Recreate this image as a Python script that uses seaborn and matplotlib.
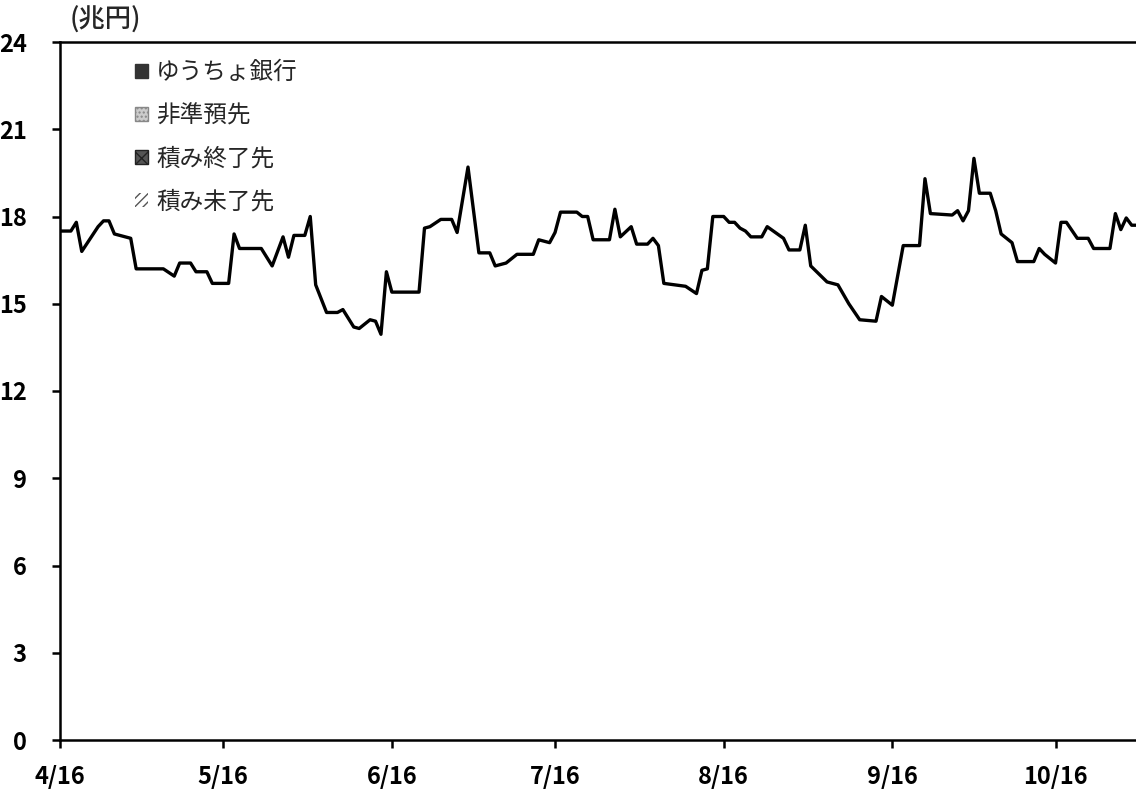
import matplotlib
matplotlib.use("Agg")
import matplotlib.pyplot as plt
from matplotlib.patches import Patch
import seaborn as sns
import pandas as pd

YEAR = "2008"
dates = ["4/16", "4/18", "4/19", "4/20", "4/23", "4/24", "4/25", "4/26", "4/29", "4/30",
         "5/5", "5/7", "5/8", "5/10", "5/11", "5/13", "5/14", "5/17", "5/18", "5/19",
         "5/23", "5/25", "5/27", "5/28", "5/29", "5/31", "6/1", "6/2", "6/4", "6/6",
         "6/7", "6/9", "6/10", "6/12", "6/13", "6/14", "6/15", "6/16", "6/21", "6/22",
         "6/23", "6/25", "6/27", "6/28", "6/30", "7/2", "7/4", "7/5", "7/7", "7/9",
         "7/12", "7/13", "7/15", "7/16", "7/17", "7/20", "7/21", "7/22", "7/23", "7/26",
         "7/27", "7/28", "7/30", "7/31", "8/2", "8/3", "8/4", "8/5", "8/9", "8/11",
         "8/12", "8/13", "8/14", "8/16", "8/17", "8/18", "8/19", "8/20", "8/21", "8/23",
         "8/24", "8/27", "8/28", "8/30", "8/31", "9/1", "9/4", "9/6", "9/8", "9/10",
         "9/13", "9/14", "9/15", "9/16", "9/18", "9/21", "9/22", "9/23", "9/27", "9/28",
         "9/29", "9/30", "10/1", "10/2", "10/4", "10/5", "10/6", "10/8", "10/9", "10/12",
         "10/13", "10/14", "10/16", "10/17", "10/18", "10/20", "10/22", "10/23", "10/26", "10/27",
         "10/28", "10/29", "10/30", "10/31"]
total = [17.5, 17.5, 17.8, 16.8, 17.65, 17.85, 17.85, 17.4, 17.25, 16.2,
         16.2, 15.95, 16.4, 16.4, 16.1, 16.1, 15.7, 15.7, 17.4, 16.9,
         16.9, 16.3, 17.3, 16.6, 17.35, 17.35, 18.0, 15.65, 14.7, 14.7,
         14.8, 14.2, 14.15, 14.45, 14.4, 13.95, 16.1, 15.4, 15.4, 17.6,
         17.65, 17.9, 17.9, 17.45, 19.7, 16.75, 16.75, 16.3, 16.4, 16.7,
         16.7, 17.2, 17.1, 17.45, 18.15, 18.15, 18.0, 18.0, 17.2, 17.2,
         18.25, 17.3, 17.65, 17.05, 17.05, 17.25, 17.0, 15.7, 15.6, 15.35,
         16.15, 16.2, 18.0, 18.0, 17.8, 17.8, 17.6, 17.5, 17.3, 17.3,
         17.65, 17.25, 16.85, 16.85, 17.7, 16.3, 15.75, 15.65, 15.0, 14.45,
         14.4, 15.25, 15.1, 14.95, 17.0, 17.0, 19.3, 18.1, 18.05, 18.2,
         17.85, 18.2, 20.0, 18.8, 18.8, 18.2, 17.4, 17.1, 16.45, 16.45,
         16.9, 16.7, 16.4, 17.8, 17.8, 17.25, 17.25, 16.9, 16.9, 18.1,
         17.55, 17.95, 17.7, 17.7]

legend_labels = ["ゆうちょ銀行", "非準預先", "積み終了先", "積み未了先"]
xtick_labels = ["4/16", "5/16", "6/16", "7/16", "8/16", "9/16", "10/16"]
yticks = [0, 3, 6, 9, 12, 15, 18, 21, 24]

df = pd.DataFrame({"date": pd.to_datetime([f"{YEAR}/{d}" for d in dates]),
                   "total": total})

sns.set_style("ticks")
plt.rcParams["font.family"] = ["Noto Sans CJK JP", "DejaVu Sans"]

fig = plt.figure(figsize=(11.36, 7.9), dpi=100)
ax = fig.add_axes([60 / 1136, 1 - 740 / 790, 1 - 60 / 1136, (740 - 42) / 790])

sns.lineplot(data=df, x="date", y="total", ax=ax, color="black", linewidth=2.4)

ax.set_xlim(pd.Timestamp(f"{YEAR}/4/16"), pd.Timestamp(f"{YEAR}/10/31") - pd.Timedelta(hours=5))
ax.set_ylim(0, 24)
ax.set_yticks(yticks)
ax.set_yticklabels([str(v) for v in yticks], fontsize=17, fontweight="bold")
ax.set_xticks(pd.to_datetime([f"{YEAR}/{t}" for t in xtick_labels]))
ax.set_xticklabels(xtick_labels, fontsize=17, fontweight="bold")
ax.set_xlabel("")
ax.set_ylabel("")

ax.tick_params(axis="both", direction="out", length=6, width=1.8, colors="black")
ax.tick_params(axis="y", pad=18)
ax.tick_params(axis="x", pad=12)
for side in ["left", "bottom", "top"]:
    ax.spines[side].set_linewidth(1.8)
    ax.spines[side].set_color("black")
ax.spines["right"].set_visible(False)
ax.grid(False)

ax.text(70 / 1136, 1 - 20 / 790, "(兆円)", transform=fig.transFigure, fontsize=19,
        ha="left", va="center", fontweight="medium")

handles = [
    Patch(facecolor="#333333", edgecolor="#333333", hatch="...."),
    Patch(facecolor="#cccccc", edgecolor="#888888", hatch="...."),
    Patch(facecolor="#555555", edgecolor="#222222", hatch="xx"),
    Patch(facecolor="white", edgecolor="#555555", hatch="////", linewidth=0),
]
leg = ax.legend(handles, legend_labels, loc="upper left", bbox_to_anchor=(135 / 1136, 1 - 61 / 790),
                bbox_transform=fig.transFigure, frameon=False, fontsize=17,
                handlelength=0.55, handleheight=0.55, handletextpad=0.35, labelspacing=0.85,
                borderaxespad=0, borderpad=0)

fig.savefig("out.png", dpi=100)
